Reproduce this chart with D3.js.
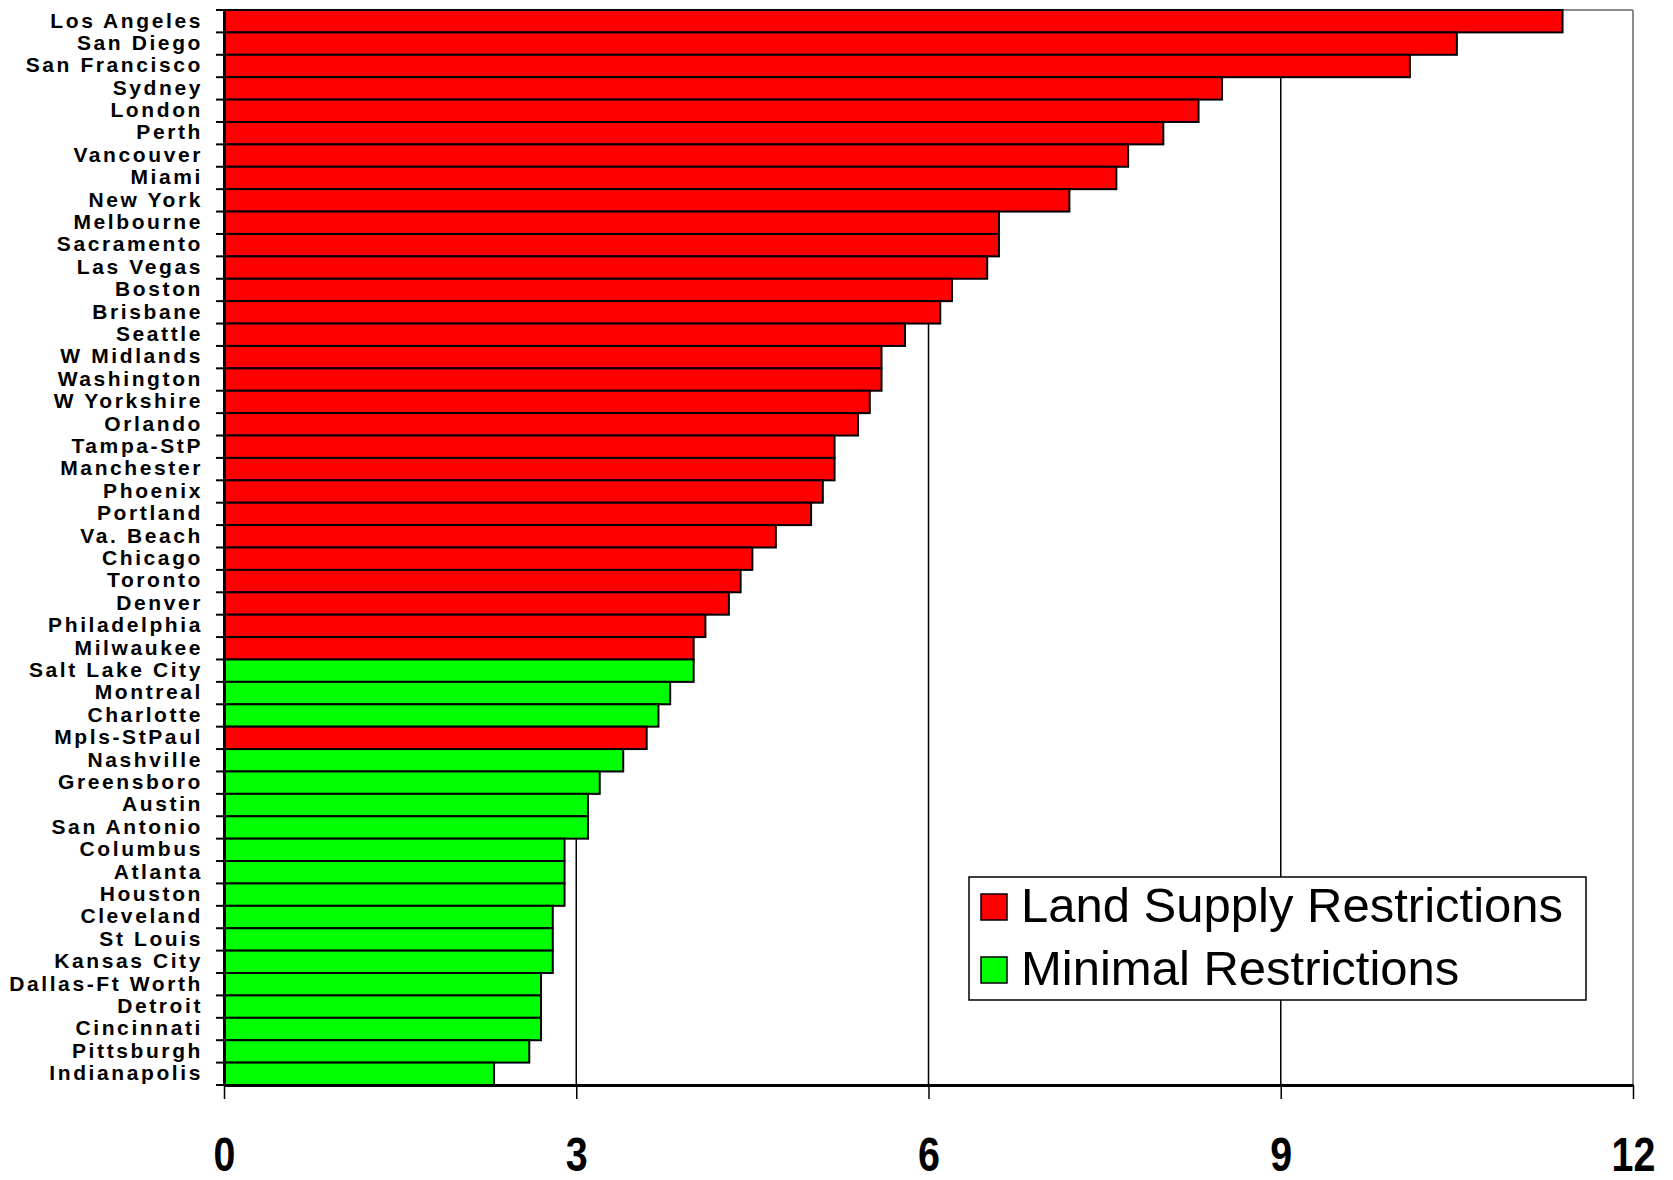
<!DOCTYPE html>
<html>
<head>
<meta charset="utf-8">
<script src="https://cdn.jsdelivr.net/npm/d3@7"></script>
<style>
  body { margin: 0; background: #fff; }
</style>
</head>
<body>
<div id="plot_area"></div>
<script>
//set svg size
const w = 1673;
const h = 1180;

// chart data
const cities = ['Los Angeles', 'San Diego', 'San Francisco', 'Sydney', 'London', 'Perth',
  'Vancouver', 'Miami', 'New York', 'Melbourne', 'Sacramento', 'Las Vegas', 'Boston',
  'Brisbane', 'Seattle', 'W Midlands', 'Washington', 'W Yorkshire', 'Orlando', 'Tampa-StP',
  'Manchester', 'Phoenix', 'Portland', 'Va. Beach', 'Chicago', 'Toronto', 'Denver',
  'Philadelphia', 'Milwaukee', 'Salt Lake City', 'Montreal', 'Charlotte', 'Mpls-StPaul',
  'Nashville', 'Greensboro', 'Austin', 'San Antonio', 'Columbus', 'Atlanta', 'Houston',
  'Cleveland', 'St Louis', 'Kansas City', 'Dallas-Ft Worth', 'Detroit', 'Cincinnati',
  'Pittsburgh', 'Indianapolis'];

const values = [11.4, 10.5, 10.1, 8.5, 8.3, 8.0,
  7.7, 7.6, 7.2, 6.6, 6.6, 6.5, 6.2,
  6.1, 5.8, 5.6, 5.6, 5.5, 5.4, 5.2,
  5.2, 5.1, 5.0, 4.7, 4.5, 4.4, 4.3,
  4.1, 4.0, 4.0, 3.8, 3.7, 3.6,
  3.4, 3.2, 3.1, 3.1, 2.9, 2.9, 2.9,
  2.8, 2.8, 2.8, 2.7, 2.7, 2.7,
  2.6, 2.3];

// 'L' = land supply restrictions, 'M' = minimal restrictions
const groups = ['L', 'L', 'L', 'L', 'L', 'L',
  'L', 'L', 'L', 'L', 'L', 'L', 'L',
  'L', 'L', 'L', 'L', 'L', 'L', 'L',
  'L', 'L', 'L', 'L', 'L', 'L', 'L',
  'L', 'L', 'M', 'M', 'M', 'L',
  'M', 'M', 'M', 'M', 'M', 'M', 'M',
  'M', 'M', 'M', 'M', 'M', 'M',
  'M', 'M'];

const legendKeys = ['L', 'M'];
const legendLabels = ['Land Supply Restrictions', 'Minimal Restrictions'];
const xTicks = [0, 3, 6, 9, 12];

const colors = { L: '#ff0000', M: '#00ff00' };

const data = cities.map((c, i) => ({ city: c, value: values[i], group: groups[i] }));

// plot box
const plotLeft = 224;
const plotRight = 1633;
const plotTop = 10;
const plotBottom = 1085;

const xScale = d3.scaleLinear()
                 .domain([0, 12])
                 .range([plotLeft, plotRight]);

const yScale = d3.scaleBand()
                 .domain(cities)
                 .range([plotTop, plotBottom])
                 .padding(0);

const svg = d3.select('#plot_area')
              .append('svg')
              .attr('width', w)
              .attr('height', h);

// frame: grey top and right edges
svg.append('line')
   .attr('x1', xScale(0)).attr('x2', xScale(12))
   .attr('y1', plotTop).attr('y2', plotTop)
   .attr('stroke', '#8c8c8c')
   .attr('stroke-width', 2);

svg.append('line')
   .attr('x1', xScale(12)).attr('x2', xScale(12))
   .attr('y1', plotTop).attr('y2', plotBottom)
   .attr('stroke', '#8c8c8c')
   .attr('stroke-width', 2);

// vertical gridlines
svg.selectAll('.grid')
   .data(xTicks.filter(t => t > 0 && t < 12))
   .enter()
   .append('line')
   .attr('class', 'grid')
   .attr('x1', d => xScale(d)).attr('x2', d => xScale(d))
   .attr('y1', plotTop).attr('y2', plotBottom)
   .attr('stroke', 'black')
   .attr('stroke-width', 1.5);

// bars
svg.selectAll('.bar')
   .data(data)
   .enter()
   .append('rect')
   .attr('class', 'bar')
   .attr('x', xScale(0))
   .attr('y', d => yScale(d.city))
   .attr('width', d => xScale(d.value) - xScale(0))
   .attr('height', yScale.bandwidth())
   .attr('fill', d => colors[d.group])
   .attr('stroke', 'black')
   .attr('stroke-width', 2);

// x axis
const xAxis = svg.append('g')
   .attr('transform', 'translate(0,' + plotBottom + ')')
   .call(d3.axisBottom(xScale)
           .tickValues(xTicks)
           .tickSize(14)
           .tickSizeOuter(0)
           .tickPadding(38));

xAxis.select('.domain')
     .attr('stroke', 'black')
     .attr('stroke-width', 3);

xAxis.selectAll('.tick line')
     .attr('stroke-width', 1.5);

xAxis.selectAll('.tick text')
     .attr('transform', 'scale(0.82,1)')
     .style('font-family', '"Liberation Sans", Arial, sans-serif')
     .style('font-weight', 'bold')
     .style('font-size', '48px')
     .attr('fill', 'black');

// y axis: labels at band centres
const yAxis = svg.append('g')
   .attr('transform', 'translate(' + plotLeft + ',0)')
   .call(d3.axisLeft(yScale)
           .tickSize(0)
           .tickSizeOuter(0)
           .tickPadding(21));

yAxis.select('.domain')
     .attr('stroke', 'black')
     .attr('stroke-width', 3);

yAxis.selectAll('.tick text')
     .attr('dy', '0.3em')
     .style('font-family', '"Liberation Sans", Arial, sans-serif')
     .style('font-weight', 'bold')
     .style('font-size', '21px')
     .style('letter-spacing', '2.6px')
     .attr('fill', 'black');

// tick marks between categories
svg.selectAll('.ytick')
   .data(cities.concat(['end']))
   .enter()
   .append('line')
   .attr('class', 'ytick')
   .attr('x1', plotLeft - 8).attr('x2', plotLeft)
   .attr('y1', d => d === 'end' ? plotBottom : yScale(d))
   .attr('y2', d => d === 'end' ? plotBottom : yScale(d))
   .attr('stroke', 'black')
   .attr('stroke-width', 2);

// legend
const legend = svg.append('g')
   .attr('transform', 'translate(969,877)');

legend.append('rect')
   .attr('width', 617)
   .attr('height', 123)
   .attr('fill', 'white')
   .attr('stroke', 'black')
   .attr('stroke-width', 1.5);

const items = legend.selectAll('.item')
   .data(legendKeys)
   .enter()
   .append('g')
   .attr('class', 'item')
   .attr('transform', (d, i) => 'translate(0,' + (i * 63) + ')');

items.append('rect')
   .attr('x', 12)
   .attr('y', 17)
   .attr('width', 26)
   .attr('height', 26)
   .attr('fill', d => colors[d])
   .attr('stroke', 'black')
   .attr('stroke-width', 1.5);

items.append('text')
   .attr('x', 52)
   .attr('y', 45)
   .style('font-family', '"Liberation Sans", Arial, sans-serif')
   .style('font-size', '49px')
   .attr('fill', 'black')
   .text((d, i) => legendLabels[i]);
</script>
</body>
</html>
